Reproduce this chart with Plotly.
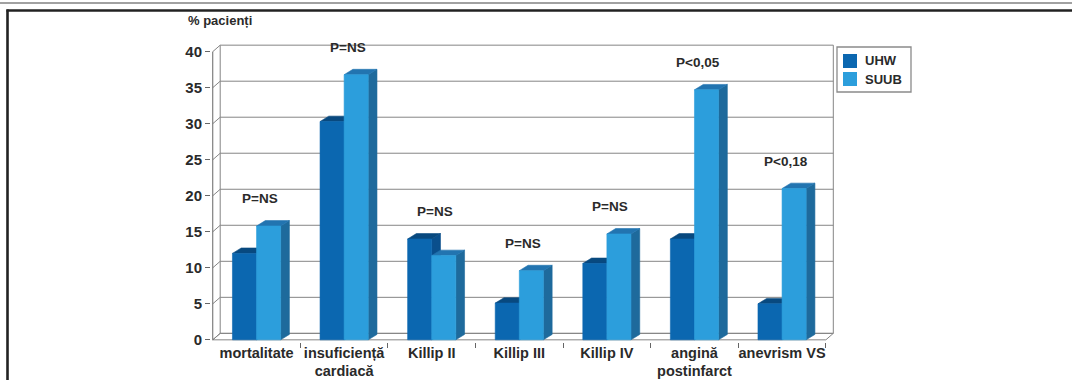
import plotly.graph_objects as go

# ---- data -------------------------------------------------------------
categories = ["mortalitate", "insuficiență<br>cardiacă", "Killip II", "Killip III",
              "Killip IV", "angină<br>postinfarct", "anevrism VS"]
series_names = ["UHW", "SUUB"]
uhw = [12.0, 30.3, 14.0, 5.1, 10.6, 14.0, 5.0]
suub = [15.8, 36.8, 11.7, 9.6, 14.7, 34.7, 21.0]
p_labels = ["P=NS", "P=NS", "P=NS", "P=NS", "P=NS", "P<0,05", "P<0,18"]
y_ticks = [0, 5, 10, 15, 20, 25, 30, 35, 40]
y_title = "% pacienți"

# ---- styling / geometry ----------------------------------------------
FONT = "Liberation Sans, Arial, Helvetica, sans-serif"
TXT = "#2a2a2a"
GRID = "#858585"
COLORS = {
    "UHW": {"front": "#0b67b0", "top": "#08497f", "side": "#0a4f8c"},
    "SUUB": {"front": "#2c9edc", "top": "#2274b0", "side": "#1e6a9c"},
}
BAR_W = 0.275            # width of one column (category units)
BAR_DX, BAR_DY = 0.10, 0.75   # depth offset of the columns
WALL_DX, WALL_DY = 0.085, 0.9  # depth offset of floor/back wall
Y_MAX = y_ticks[-1]

W, H = 1072, 380
M_L, M_R, M_T, M_B = 211, 233, 43, 38
X_RANGE = [-0.52, 6.65]
Y_RANGE = [-0.3, 41.2]
PLOT_W = W - M_L - M_R
PLOT_H = H - M_T - M_B


def px_x(px):
    return (px - M_L) / PLOT_W


def px_y(py):
    return (H - M_B - py) / PLOT_H


n = len(categories)
left_edge, right_edge = -0.5, n - 0.5

fig = go.Figure()


def add_lines(segments, color, width):
    xs, ys = [], []
    for (x0, y0), (x1, y1) in segments:
        xs += [x0, x1, None]
        ys += [y0, y1, None]
    fig.add_trace(go.Scatter(x=xs, y=ys, mode="lines", cliponaxis=False,
                             line=dict(color=color, width=width),
                             hoverinfo="skip", showlegend=False))


# floor
fig.add_trace(go.Scatter(
    x=[left_edge, right_edge, right_edge + WALL_DX, left_edge + WALL_DX, left_edge],
    y=[0, 0, WALL_DY, WALL_DY, 0], mode="lines", fill="toself",
    fillcolor="white", line=dict(color=GRID, width=1),
    hoverinfo="skip", showlegend=False))

# back wall gridlines and left side wall diagonals
grid_segs = []
for t in y_ticks:
    grid_segs.append(((left_edge + WALL_DX, t + WALL_DY), (right_edge + WALL_DX, t + WALL_DY)))
    grid_segs.append(((left_edge, t), (left_edge + WALL_DX, t + WALL_DY)))
grid_segs.append(((left_edge + WALL_DX, WALL_DY), (left_edge + WALL_DX, Y_MAX + WALL_DY)))
grid_segs.append(((right_edge + WALL_DX, WALL_DY), (right_edge + WALL_DX, Y_MAX + WALL_DY)))
add_lines(grid_segs, GRID, 1)

# front value axis
add_lines([((left_edge, 0), (left_edge, Y_MAX))], "#666666", 1)


# ---- 3-D columns: front, top and side faces ---------------------------
def faces(x0, x1, h):
    front = [(x0, 0), (x1, 0), (x1, h), (x0, h), (x0, 0)]
    top = [(x0, h), (x1, h), (x1 + BAR_DX, h + BAR_DY), (x0 + BAR_DX, h + BAR_DY), (x0, h)]
    side = [(x1, 0), (x1 + BAR_DX, BAR_DY), (x1 + BAR_DX, h + BAR_DY), (x1, h), (x1, 0)]
    return {"front": front, "top": top, "side": side}


for s_idx, (name, vals) in enumerate(zip(series_names, [uhw, suub])):
    polys = {"front": [], "top": [], "side": []}
    for i, v in enumerate(vals):
        x0 = i - BAR_W + s_idx * BAR_W
        f = faces(x0, x0 + BAR_W, v)
        for k in polys:
            polys[k].append(f[k])
    for k in ["side", "top", "front"]:
        xs, ys = [], []
        for poly in polys[k]:
            xs += [p[0] for p in poly] + [None]
            ys += [p[1] for p in poly] + [None]
        col = COLORS[name][k]
        fig.add_trace(go.Scatter(
            x=xs, y=ys, mode="lines", fill="toself", fillcolor=col,
            line=dict(color=col, width=0.6), name=name,
            hoverinfo="skip", showlegend=False))

# significance labels above each category
for i, lab in enumerate(p_labels):
    top = max(uhw[i], suub[i]) + BAR_DY
    fig.add_annotation(x=i + 0.04, y=top + 3.0, text=lab, showarrow=False,
                       xanchor="center", yanchor="middle",
                       font=dict(family=FONT, size=13.5, color=TXT, weight="bold"))

# y-axis title
fig.add_annotation(xref="paper", yref="paper", x=px_x(186), y=px_y(20),
                   text=y_title, showarrow=False, xanchor="left", yanchor="middle",
                   font=dict(family=FONT, size=13, color=TXT, weight="bold"))

# ---- legend ------------------------------------------------------------
shapes = []
shapes.append(dict(type="rect", xref="paper", yref="paper",
                   x0=px_x(837), x1=px_x(911), y0=px_y(92), y1=px_y(47),
                   line=dict(color="#8a8a8a", width=1.3), fillcolor="white"))
for j, name in enumerate(series_names):
    yc = 61 + j * 18
    shapes.append(dict(type="rect", xref="paper", yref="paper",
                       x0=px_x(843), x1=px_x(857), y0=px_y(yc + 7), y1=px_y(yc - 7),
                       line=dict(width=0), fillcolor=COLORS[name]["front"]))
    fig.add_annotation(xref="paper", yref="paper", x=px_x(863), y=px_y(yc),
                       text=name, showarrow=False, xanchor="left", yanchor="middle",
                       font=dict(family=FONT, size=13, color=TXT, weight="bold"))

# page frame
shapes.append(dict(type="line", xref="paper", yref="paper",
                   x0=px_x(0), x1=px_x(W), y0=px_y(3), y1=px_y(3),
                   line=dict(color="#444444", width=1.2)))
shapes.append(dict(type="line", xref="paper", yref="paper",
                   x0=px_x(6.5), x1=px_x(W), y0=px_y(10.5), y1=px_y(10.5),
                   line=dict(color="#222222", width=2.6)))
shapes.append(dict(type="line", xref="paper", yref="paper",
                   x0=px_x(7.5), x1=px_x(7.5), y0=px_y(9.5), y1=px_y(H + 2),
                   line=dict(color="#222222", width=2.6)))

fig.update_layout(
    width=W, height=H,
    margin=dict(l=M_L, r=M_R, t=M_T, b=M_B, autoexpand=False),
    paper_bgcolor="white", plot_bgcolor="white",
    showlegend=False, shapes=shapes,
    xaxis=dict(range=X_RANGE, showgrid=False, zeroline=False, showline=False,
               automargin=False,
               tickmode="array", tickvals=list(range(n)), ticktext=categories,
               ticks="", tickfont=dict(family=FONT, size=14.5, color=TXT, weight="bold"),
               minor=dict(tickmode="array", tickvals=[i + 0.5 for i in range(n)],
                          ticks="outside", ticklen=5, tickcolor="#666666", tickwidth=1),
               fixedrange=True),
    yaxis=dict(range=Y_RANGE, showgrid=False, zeroline=False, showline=False,
               automargin=False,
               tickmode="array", tickvals=y_ticks, ticks="outside", ticklen=5,
               tickcolor="#666666", tickwidth=1,
               tickfont=dict(family=FONT, size=15, color=TXT, weight="bold"),
               fixedrange=True),
)

fig.write_html("out.html")
